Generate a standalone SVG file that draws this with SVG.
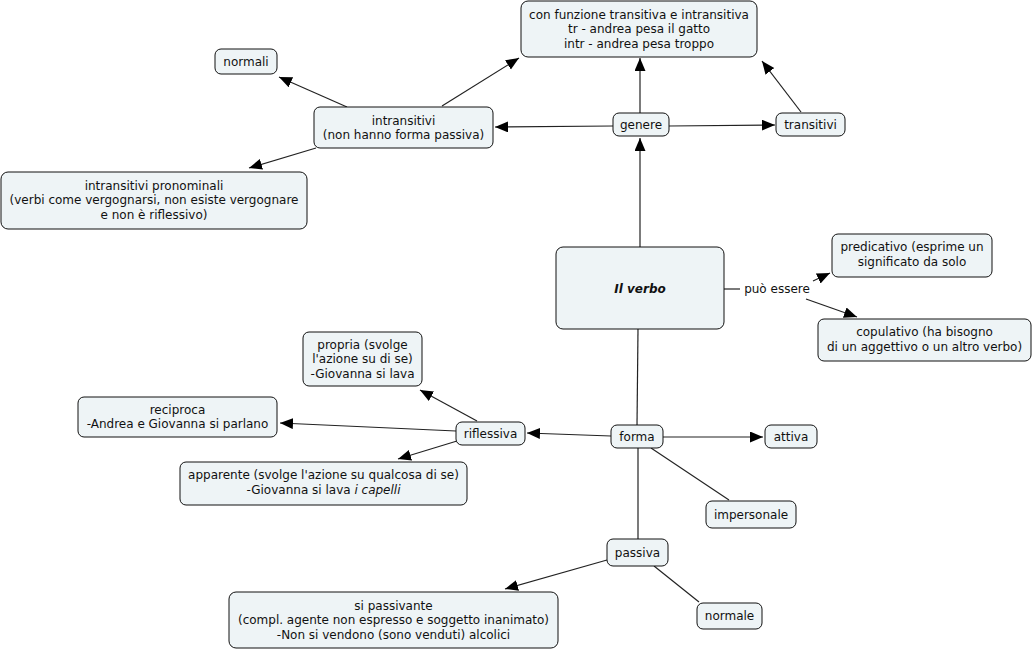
<svg xmlns="http://www.w3.org/2000/svg" width="1034" height="651" viewBox="0 0 1034 651">
<style>
.n rect{fill:#eef4f6;stroke:#111;stroke-width:1}
text{font-family:"DejaVu Sans","Verdana",sans-serif;font-size:12px;fill:#111;text-anchor:middle}
.c path{stroke:#222;stroke-width:1.2;fill:none}
.c path.a{marker-end:url(#ah)}
</style>
<defs>
<marker id="ah" markerUnits="userSpaceOnUse" markerWidth="14" markerHeight="12" refX="13" refY="5.5" orient="auto" viewBox="0 0 14 12">
<path d="M0,0 L13,5.5 L0,11 z" fill="#000"/>
</marker>
</defs>
<rect width="1034" height="651" fill="#fff"/>
<g class="c">
<path class="a" d="M640,113 L640,58"/>
<path class="a" d="M613,126 L495,127"/>
<path class="a" d="M669,126 L775,125"/>
<path class="a" d="M801,112 L762,61"/>
<path class="a" d="M442,106 L519,58"/>
<path class="a" d="M347,107 L279,77"/>
<path class="a" d="M316,148 L249,168"/>
<path class="a" d="M640,247 L640,138"/>
<path d="M724,289 L740,289"/>
<path class="a" d="M813,281 L830,273"/>
<path class="a" d="M806,299 L857,317"/>
<path d="M638,329 L637,425"/>
<path class="a" d="M663,437 L763,437"/>
<path class="a" d="M611,436 L527,433"/>
<path d="M651,448 L729,500"/>
<path d="M638,448 L638,539"/>
<path class="a" d="M477,421 L420,390"/>
<path class="a" d="M456,431 L280,423"/>
<path class="a" d="M457,441 L398,459"/>
<path class="a" d="M607,560 L505,589"/>
<path d="M654,566 L699,602"/>
<text x="777" y="293">può essere</text>
</g>
<g id="funzione" class="n"><rect x="521" y="1" width="236" height="56" rx="7"/><text x="639" y="18.5">con funzione transitiva e intransitiva</text><text x="639" y="33">tr - andrea pesa il gatto</text><text x="639" y="47.5">intr - andrea pesa troppo</text></g>
<g id="normali" class="n"><rect x="215" y="49" width="62" height="25" rx="6"/><text x="246" y="65.5">normali</text></g>
<g id="intransitivi" class="n"><rect x="314" y="107" width="179" height="41" rx="6"/><text x="403.5" y="124.5">intransitivi</text><text x="403.5" y="138.5">(non hanno forma passiva)</text></g>
<g id="genere" class="n"><rect x="613" y="113" width="56" height="23" rx="6"/><text x="641" y="128.5">genere</text></g>
<g id="transitivi" class="n"><rect x="776" y="113" width="69" height="23" rx="6"/><text x="810.5" y="128.5">transitivi</text></g>
<g id="pronominali" class="n"><rect x="1" y="172" width="306" height="57" rx="7"/><text x="154" y="189.5">intransitivi pronominali</text><text x="154" y="204">(verbi come vergognarsi, non esiste vergognare</text><text x="154" y="218.5">e non è riflessivo)</text></g>
<g id="verbo" class="n"><rect x="556" y="247" width="168" height="82" rx="7"/><text x="640" y="293" font-weight="bold" font-style="italic">Il verbo</text></g>
<g id="predicativo" class="n"><rect x="832" y="234" width="160" height="43" rx="6"/><text x="912" y="251">predicativo (esprime un</text><text x="912" y="265.5">significato da solo</text></g>
<g id="copulativo" class="n"><rect x="818" y="319" width="213" height="42" rx="6"/><text x="924.5" y="336">copulativo (ha bisogno</text><text x="924.5" y="350.5">di un aggettivo o un altro verbo)</text></g>
<g id="propria" class="n"><rect x="303" y="332" width="119" height="54" rx="6"/><text x="362.5" y="348.5">propria (svolge</text><text x="362.5" y="363">l'azione su di se)</text><text x="362.5" y="377.5">-Giovanna si lava</text></g>
<g id="reciproca" class="n"><rect x="78" y="397" width="199" height="40" rx="6"/><text x="177.5" y="413.5">reciproca</text><text x="177.5" y="428">-Andrea e Giovanna si parlano</text></g>
<g id="riflessiva" class="n"><rect x="456" y="422" width="69" height="23" rx="6"/><text x="490.5" y="437.5">riflessiva</text></g>
<g id="forma" class="n"><rect x="611" y="425" width="52" height="23" rx="6"/><text x="637" y="440.5">forma</text></g>
<g id="attiva" class="n"><rect x="765" y="425" width="52" height="23" rx="6"/><text x="791" y="440.5">attiva</text></g>
<g id="apparente" class="n"><rect x="180" y="462" width="287" height="43" rx="6"/><text x="323.5" y="479">apparente (svolge l'azione su qualcosa di se)</text><text x="323.5" y="493.5">-Giovanna si lava <tspan font-style="italic">i capelli</tspan></text></g>
<g id="impersonale" class="n"><rect x="706" y="501" width="90" height="27" rx="6"/><text x="751" y="518.5">impersonale</text></g>
<g id="passiva" class="n"><rect x="607" y="539" width="61" height="27" rx="6"/><text x="637.5" y="556.5">passiva</text></g>
<g id="sipassivante" class="n"><rect x="229" y="592" width="329" height="56" rx="7"/><text x="393.5" y="609.5">si passivante</text><text x="393.5" y="624">(compl. agente non espresso e soggetto inanimato)</text><text x="393.5" y="638.5">-Non si vendono (sono venduti) alcolici</text></g>
<g id="normale" class="n"><rect x="697" y="603" width="65" height="26" rx="6"/><text x="729.5" y="620">normale</text></g>
</svg>
